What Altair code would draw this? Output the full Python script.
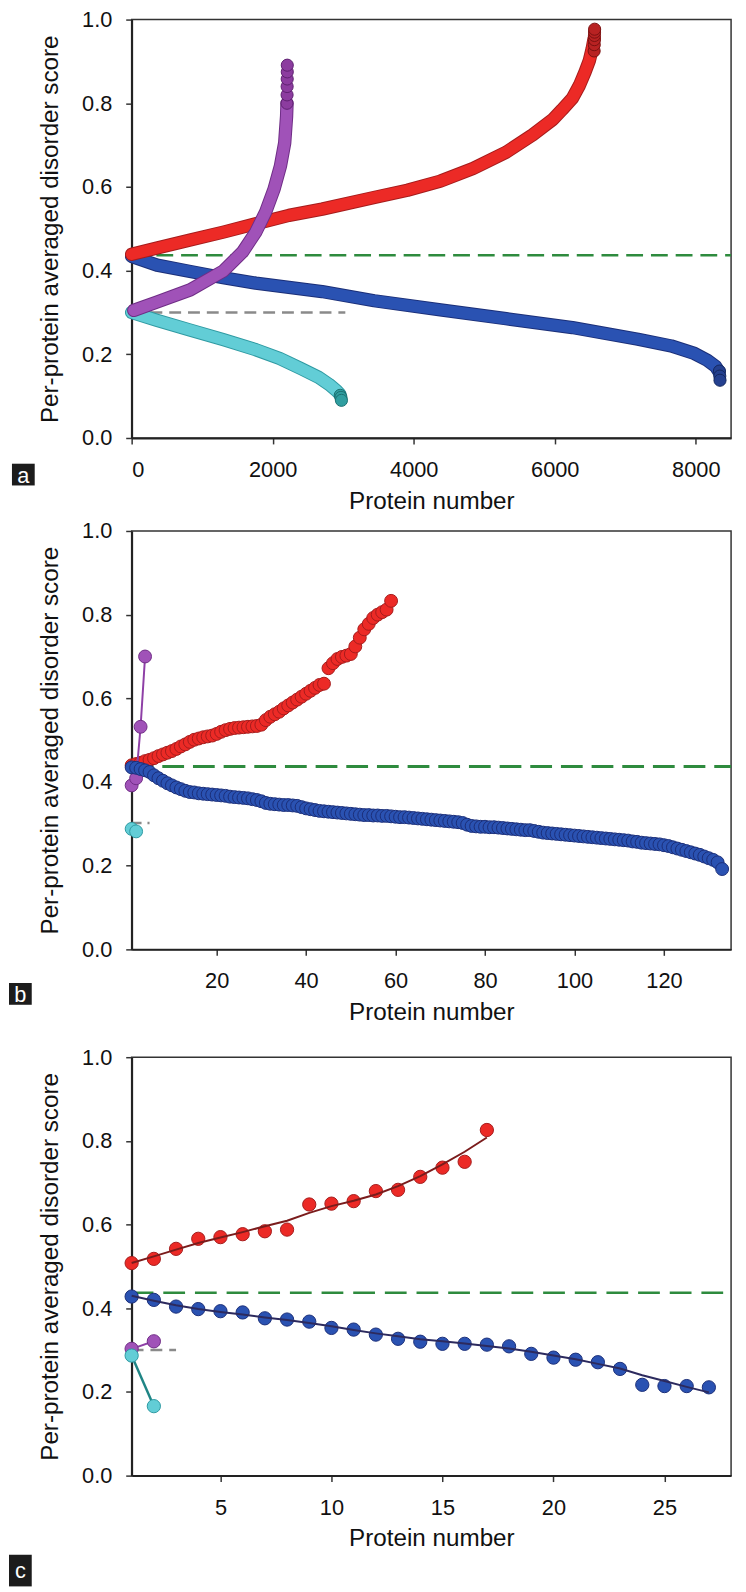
import altair as alt
import pandas as pd

FONT = "Liberation Sans"

# ---------------- panel a : dense bands, values read along each band ----------------
a_red_x = [0, 360, 830, 1300, 1760, 2230, 2700, 3440, 3910, 4380, 4840, 5310, 5690, 5970, 6100, 6250, 6350, 6430, 6490, 6530, 6558]
a_red_y = [0.439, 0.454, 0.473, 0.492, 0.512, 0.532, 0.547, 0.575, 0.592, 0.614, 0.644, 0.683, 0.725, 0.761, 0.784, 0.812, 0.843, 0.875, 0.902, 0.930, 0.955]
a_red_tail_x = [6558, 6560, 6562, 6563, 6564, 6565]
a_red_tail_y = [0.925, 0.940, 0.952, 0.962, 0.970, 0.977]

a_blue_x = [0, 360, 830, 1300, 1760, 2230, 2700, 3440, 4380, 5310, 6250, 7180, 7650, 7980, 8160, 8280, 8330]
a_blue_y = [0.434, 0.413, 0.398, 0.383, 0.370, 0.360, 0.350, 0.328, 0.306, 0.285, 0.264, 0.236, 0.220, 0.202, 0.186, 0.171, 0.158]
a_blue_tail_x = [8335, 8340, 8343]
a_blue_tail_y = [0.160, 0.148, 0.138]

a_purple_x = [30, 360, 830, 1300, 1575, 1760, 1900, 2020, 2110, 2170, 2197, 2203]
a_purple_y = [0.305, 0.325, 0.354, 0.399, 0.445, 0.492, 0.540, 0.595, 0.650, 0.705, 0.769, 0.800]
a_purple_tail_x = [2203, 2204, 2205, 2206, 2207, 2207]
a_purple_tail_y = [0.800, 0.820, 0.840, 0.858, 0.875, 0.891]

a_cyan_x = [0, 360, 830, 1300, 1760, 2100, 2400, 2650, 2800, 2900, 2950]
a_cyan_y = [0.300, 0.281, 0.258, 0.235, 0.211, 0.190, 0.166, 0.145, 0.128, 0.114, 0.105]
a_cyan_tail_x = [2958, 2968, 2975]
a_cyan_tail_y = [0.102, 0.097, 0.090]

a_gray_x = [0, 3030]
a_gray_y = [0.300, 0.300]
a_green_x = [0, 8500]
a_green_y = [0.437, 0.437]

# ---------------- panel b : individual proteins ----------------
b_blue_y = [0.435, 0.434, 0.431, 0.428, 0.424, 0.416, 0.409, 0.403, 0.397, 0.392,
            0.387, 0.383, 0.379, 0.376, 0.375, 0.373, 0.372, 0.371, 0.370, 0.369,
            0.368, 0.367, 0.365, 0.364, 0.363, 0.362, 0.361, 0.359, 0.357, 0.354,
            0.350, 0.348, 0.347, 0.346, 0.345, 0.345, 0.344, 0.343, 0.340, 0.337,
            0.335, 0.333, 0.331, 0.330, 0.329, 0.328, 0.327, 0.326, 0.325, 0.324,
            0.323, 0.322, 0.321, 0.321, 0.320, 0.320, 0.319, 0.319, 0.318, 0.317,
            0.316, 0.316, 0.315, 0.314, 0.313, 0.312, 0.311, 0.310, 0.309, 0.308,
            0.307, 0.306, 0.305, 0.304, 0.302, 0.298, 0.295, 0.294, 0.293, 0.293,
            0.292, 0.292, 0.291, 0.290, 0.289, 0.288, 0.287, 0.286, 0.285, 0.285,
            0.283, 0.281, 0.279, 0.278, 0.277, 0.276, 0.275, 0.274, 0.273, 0.272,
            0.271, 0.270, 0.269, 0.268, 0.267, 0.266, 0.265, 0.264, 0.263, 0.262,
            0.261, 0.260, 0.258, 0.257, 0.255, 0.254, 0.253, 0.252, 0.251, 0.249,
            0.247, 0.244, 0.241, 0.238, 0.235, 0.232, 0.229, 0.226, 0.222, 0.218,
            0.214, 0.208, 0.192]
b_red_y = [0.440, 0.443, 0.446, 0.450, 0.453, 0.457, 0.462, 0.466, 0.470, 0.474,
           0.479, 0.485, 0.490, 0.496, 0.501, 0.504, 0.507, 0.509, 0.511, 0.515,
           0.520, 0.524, 0.527, 0.529, 0.530, 0.531, 0.532, 0.533, 0.534, 0.537,
           0.548, 0.556, 0.562, 0.568, 0.576, 0.583, 0.590, 0.597, 0.604, 0.611,
           0.618, 0.625, 0.632, 0.635, 0.672, 0.684, 0.694, 0.699, 0.702, 0.706,
           0.724, 0.745, 0.765, 0.778, 0.792, 0.800, 0.806, 0.812, 0.833]
b_purple_y = [0.392, 0.409, 0.532, 0.700]
b_cyan_y = [0.288, 0.282]
b_gray_x = [1, 5]
b_gray_y = [0.302, 0.302]
b_green_x = [1, 135]
b_green_y = [0.437, 0.437]

# ---------------- panel c : points and fitted curves ----------------
c_red_y = [0.508, 0.518, 0.542, 0.566, 0.570, 0.577, 0.584, 0.588, 0.648, 0.650,
           0.656, 0.680, 0.683, 0.714, 0.736, 0.750, 0.826]
c_red_fit = [0.508, 0.524, 0.540, 0.556, 0.569, 0.582, 0.596, 0.609, 0.628, 0.644,
             0.657, 0.672, 0.692, 0.716, 0.744, 0.774, 0.808]
c_blue_y = [0.428, 0.420, 0.404, 0.398, 0.393, 0.390, 0.376, 0.373, 0.368, 0.353,
            0.349, 0.337, 0.327, 0.320, 0.315, 0.315, 0.313, 0.309, 0.291, 0.282,
            0.277, 0.271, 0.255, 0.217, 0.214, 0.214, 0.211]
c_blue_fit = [0.430, 0.418, 0.407, 0.398, 0.391, 0.385, 0.378, 0.372, 0.365, 0.357,
              0.348, 0.340, 0.333, 0.326, 0.321, 0.316, 0.310, 0.304, 0.296, 0.287,
              0.278, 0.267, 0.256, 0.240, 0.226, 0.212, 0.199]
c_purple_y = [0.303, 0.321]
c_cyan_y = [0.287, 0.166]
c_gray_x = [1, 3]
c_gray_y = [0.300, 0.300]
c_green_x = [1, 28]
c_green_y = [0.437, 0.437]

panel_letters = ["a", "b", "c"]

# ---------------- styling ----------------
RED, RED_E = "#ec2a26", "#a51c1c"
BLUE, BLUE_E = "#2a52b2", "#1b2f78"
PURPLE, PURPLE_E = "#a052b8", "#6f2d86"
CYAN, CYAN_E = "#62cdd6", "#2f9aa2"
GREEN = "#2e8b3e"
GRAY = "#8a8a8a"

W, H = 606, 423
YTICKS = [0, 0.2, 0.4, 0.6, 0.8, 1.0]


def df(x, y):
    return pd.DataFrame({"x": x, "y": y})


def enc(domain, ticks):
    xs = alt.X("x:Q", scale=alt.Scale(domain=domain, nice=False, zero=False),
               axis=alt.Axis(values=ticks, title="Protein number", format="d",
                             labelPadding=16, titlePadding=9))
    ys = alt.Y("y:Q", scale=alt.Scale(domain=[0, 1], nice=False),
               axis=alt.Axis(values=YTICKS, format=".1f",
                             title="Per-protein averaged disorder score",
                             labelPadding=14, titlePadding=19))
    return xs, ys


def dashed(x, y, color, dash, width, xs, ys):
    return alt.Chart(df(x, y)).mark_line(color=color, strokeDash=dash, strokeWidth=width).encode(x=xs, y=ys)


def band(x, y, color, edge, xs, ys):
    base = alt.Chart(df(x, y)).encode(x=xs, y=ys)
    return (base.mark_line(color=edge, strokeWidth=13.5, strokeCap="round", strokeJoin="round")
            + base.mark_line(color=color, strokeWidth=11.5, strokeCap="round", strokeJoin="round"))


def dots(x, y, fill, edge, size, xs, ys):
    return alt.Chart(df(x, y)).mark_circle(size=size, opacity=1, color=fill, stroke=edge,
                                           strokeWidth=1).encode(x=xs, y=ys)


def line(x, y, color, width, xs, ys):
    return alt.Chart(df(x, y)).mark_line(color=color, strokeWidth=width).encode(x=xs, y=ys)


def tag(letter, x0, y0, y1):
    d = pd.DataFrame({"t": [letter]})
    box = alt.Chart(d).mark_rect(color="#1c1c1c").encode(
        x=alt.value(x0), x2=alt.value(x0 + 23), y=alt.value(y0), y2=alt.value(y1))
    txt = alt.Chart(d).mark_text(color="white", fontSize=22, font=FONT, align="center",
                                 baseline="middle").encode(
        x=alt.value(x0 + 11.5), y=alt.value((y0 + y1) / 2 + 1), text="t:N")
    return box + txt


# panel a
xs, ys = enc([0, 8500], [0, 2000, 4000, 6000, 8000])
pa = alt.layer(
    dashed(a_green_x, a_green_y, GREEN, [17, 8], 2.5, xs, ys),
    dashed(a_gray_x, a_gray_y, GRAY, [12, 7], 2.5, xs, ys),
    band(a_blue_x, a_blue_y, BLUE, BLUE_E, xs, ys),
    dots(a_blue_tail_x, a_blue_tail_y, "#24408f", "#14275e", 150, xs, ys),
    band(a_red_x, a_red_y, RED, RED_E, xs, ys),
    dots(a_red_tail_x, a_red_tail_y, "#b82222", "#7a1010", 150, xs, ys),
    band(a_cyan_x, a_cyan_y, CYAN, CYAN_E, xs, ys),
    dots(a_cyan_tail_x, a_cyan_tail_y, "#2f9ea0", "#1a6f70", 150, xs, ys),
    band(a_purple_x, a_purple_y, PURPLE, PURPLE_E, xs, ys),
    dots(a_purple_tail_x, a_purple_tail_y, "#8c3c9f", "#5e2070", 150, xs, ys),
    tag(panel_letters[0], -121, 449, 471),
).properties(width=W, height=H)

# panel b
xs, ys = enc([1, 135], [20, 40, 60, 80, 100, 120])
pb = alt.layer(
    dashed(b_green_x, b_green_y, GREEN, [22, 9], 3, xs, ys),
    dashed(b_gray_x, b_gray_y, GRAY, [10, 6], 2.5, xs, ys),
    dots(list(range(1, len(b_red_y) + 1)), b_red_y, RED, RED_E, 170, xs, ys),
    line(list(range(1, len(b_purple_y) + 1)), b_purple_y, "#8e3fa6", 2, xs, ys),
    dots(list(range(1, len(b_purple_y) + 1)), b_purple_y, PURPLE, PURPLE_E, 170, xs, ys),
    dots(list(range(1, len(b_blue_y) + 1)), b_blue_y, BLUE, BLUE_E, 170, xs, ys),
    dots(list(range(1, len(b_cyan_y) + 1)), b_cyan_y, CYAN, CYAN_E, 170, xs, ys),
    tag(panel_letters[1], -124, 457, 479),
).properties(width=W, height=H)

# panel c
xs, ys = enc([1, 28], [5, 10, 15, 20, 25])
pc = alt.layer(
    dashed(c_green_x, c_green_y, GREEN, [22, 10], 2.5, xs, ys),
    dashed(c_gray_x, c_gray_y, GRAY, [12, 7], 2.5, xs, ys),
    dots(list(range(1, len(c_red_y) + 1)), c_red_y, RED, RED_E, 180, xs, ys),
    line(list(range(1, len(c_red_fit) + 1)), c_red_fit, "#7a1c1c", 2, xs, ys),
    dots(list(range(1, len(c_blue_y) + 1)), c_blue_y, BLUE, BLUE_E, 180, xs, ys),
    line(list(range(1, len(c_blue_fit) + 1)), c_blue_fit, "#2c2a5e", 2, xs, ys),
    line(list(range(1, len(c_purple_y) + 1)), c_purple_y, "#8e3fa6", 2, xs, ys),
    dots(list(range(1, len(c_purple_y) + 1)), c_purple_y, PURPLE, PURPLE_E, 180, xs, ys),
    line(list(range(1, len(c_cyan_y) + 1)), c_cyan_y, "#1f8585", 2.5, xs, ys),
    dots(list(range(1, len(c_cyan_y) + 1)), c_cyan_y, CYAN, CYAN_E, 180, xs, ys),
    tag(panel_letters[2], -124, 503, 535),
).properties(width=W, height=H)

chart = alt.vconcat(alt.vconcat(pa, pb, spacing=5), pc, spacing=20).properties(
    padding={"left": 0, "top": -9, "right": 0, "bottom": 0}
).configure_axis(
    labelFont=FONT, titleFont=FONT, labelFontSize=22, titleFontSize=24.5,
    titleFontWeight="normal", labelColor="#111", titleColor="#111",
    domainColor="#222", domainWidth=2, tickColor="#333", tickWidth=1.5, tickSize=6,
    grid=False,
).configure_view(stroke="#333", strokeWidth=1.5)

chart.save("out.html", embed_options={"renderer": "svg", "actions": False})
